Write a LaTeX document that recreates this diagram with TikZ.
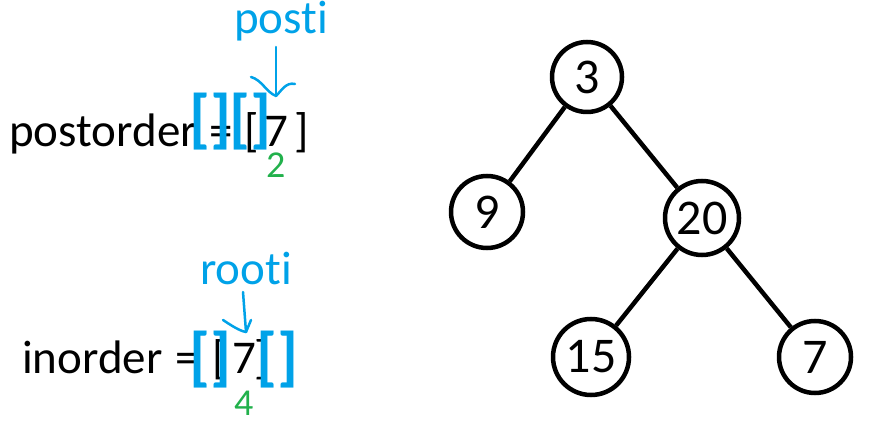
\documentclass[tikz,border=0pt]{standalone}
\usepackage{fontspec}
\setmainfont[Ligatures={NoCommon,NoRequired,NoContextual}]{Carlito}
\definecolor{pblue}{RGB}{0,162,232}
\definecolor{pgreen}{RGB}{34,177,76}
\begin{document}
\begin{tikzpicture}[x=1pt,y=-1pt,
  tnode/.style={draw,circle,line width=4.5pt,inner sep=0pt,font=\fontsize{50}{54}\selectfont},
  edge/.style={line width=4.5pt},
  txt/.style={anchor=base west,inner sep=0pt,font=\fontsize{47}{50}\selectfont},
  bbr/.style={anchor=base west,inner sep=0pt,text=pblue,font=\bfseries\fontsize{65}{68}\selectfont},
  blab/.style={anchor=base west,inner sep=0pt,text=pblue,font=\fontsize{47}{50}\selectfont},
  glab/.style={anchor=base west,inner sep=0pt,text=pgreen,font=\fontsize{38}{40}\selectfont},
  pen/.style={pblue,line width=2.5pt,line cap=round,line join=round}]
\useasboundingbox (0,0) rectangle (869,427);
% tree
\node[tnode,minimum size=70pt] (n3) at (587,77) {3};
\node[tnode,minimum size=72pt] (n9) at (487,212) {9};
\node[tnode,minimum size=74pt] (n20) at (702,218) {20};
\node[tnode,minimum size=76pt] (n15) at (591,357) {15};
\node[tnode,minimum size=72pt] (n7) at (815,357) {7};
\draw[edge] (n3) -- (n9);
\draw[edge] (n3) -- (n20);
\draw[edge] (n20) -- (n15);
\draw[edge] (n20) -- (n7);
% postorder row
\node[txt] (po) at (9,147) {postorder};
\node[txt] (poeq) at (209,147) {=};
\node[txt] (pol) at (244,147) {[};
\node[txt] (po7) at (264,147) {7};
\node[txt] (por) at (294,147) {]};
\node[bbr] (pob1) at (189,141) {[]};
\node[bbr] (pob2) at (229,141) {[]};
\node[blab] (posti) at (234,34) {post\kern0pt i};
\node[glab] (two) at (266,178) {2};
\coordinate (pa0) at (276,47);
\coordinate (pa1) at (276,96);
\coordinate (pl) at (251,77);
\coordinate (pr) at (295,84);
\draw[pen] (pa0) -- (pa1);
\draw[pen] (pl) .. controls (262,80) and (266,92) .. (pa1);
\draw[pen] (pa1) .. controls (282,90) and (286,82) .. (pr);
% inorder row
\node[txt] (io) at (22,373) {inorder};
\node[txt] (ioeq) at (175,373) {=};
\node[txt] (iol) at (212,373) {[};
\node[txt] (io7) at (232,373) {7};
\node[txt] (ior) at (254,373) {]};
\node[bbr] (iob1) at (189,378) {[]};
\node[bbr] (iob2) at (256,378) {[]};
\node[blab] (rooti) at (200,285) {root\kern0pt i};
\node[glab] (four) at (234,415) {4};
\coordinate (ra0) at (243,292);
\coordinate (ra1) at (246,332);
\coordinate (rl) at (223,320);
\coordinate (rr) at (251,320);
\draw[pen] (ra0) -- (ra1);
\draw[pen] (rl) .. controls (232,326) and (240,331) .. (ra1);
\draw[pen] (ra1) -- (rr);
\end{tikzpicture}
\end{document}
